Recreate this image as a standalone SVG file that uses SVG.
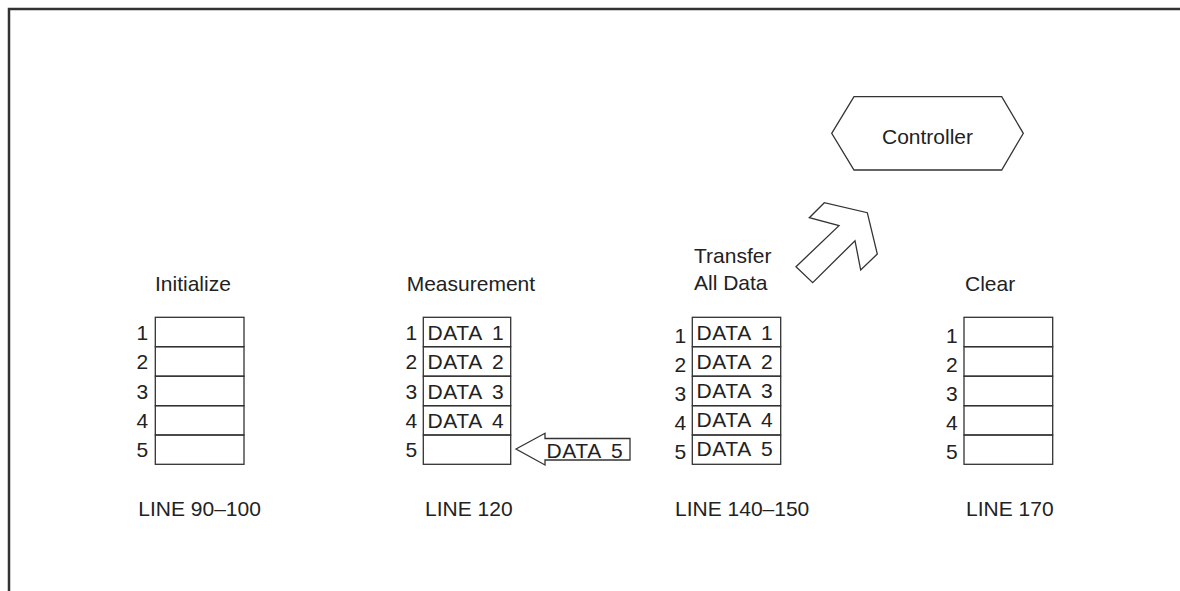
<svg xmlns="http://www.w3.org/2000/svg" width="1180" height="591" viewBox="0 0 1180 591">
<style>
text{font-family:"Liberation Sans",Arial,sans-serif;font-size:21px;fill:#222}
.data{letter-spacing:0.6px;word-spacing:4px}
.box{fill:#fff;stroke:#333;stroke-width:1.3}
.cell{fill:none;stroke:#333;stroke-width:1.3}
.frame{fill:none;stroke:#333;stroke-width:2.5}
</style>
<rect width="1180" height="591" fill="#fff"/>
<path class="frame" d="M9,591 V9 H1180"/>

<g id="controller">
<polygon class="box" points="831.7,133.3 854,96.7 1001.7,96.7 1023.3,133.3 1001.7,170 854,170"/>
<text x="927.5" y="144" text-anchor="middle" font-size="20">Controller</text>
</g>

<g id="initialize">
<text x="155" y="290.7">Initialize</text>
<rect class="cell" x="155.3" y="317.3" width="88.7" height="29.4"/>
<rect class="cell" x="155.3" y="346.7" width="88.7" height="29.5"/>
<rect class="cell" x="155.3" y="376.2" width="88.7" height="29.5"/>
<rect class="cell" x="155.3" y="405.7" width="88.7" height="29.3"/>
<rect class="cell" x="155.3" y="435" width="88.7" height="29.3"/>
<text x="136.5" y="339.5">1</text>
<text x="136.5" y="369">2</text>
<text x="136.5" y="398.5">3</text>
<text x="136.5" y="428">4</text>
<text x="136.5" y="457">5</text>
<text x="138.3" y="516">LINE 90–100</text>
</g>

<g id="measurement">
<text x="406.7" y="290.7">Measurement</text>
<rect class="cell" x="423.3" y="317.3" width="87.4" height="29.4"/>
<rect class="cell" x="423.3" y="346.7" width="87.4" height="29.5"/>
<rect class="cell" x="423.3" y="376.2" width="87.4" height="29.5"/>
<rect class="cell" x="423.3" y="405.7" width="87.4" height="29.3"/>
<rect class="cell" x="423.3" y="435" width="87.4" height="29.3"/>
<text x="405.5" y="339.5">1</text>
<text x="405.5" y="369">2</text>
<text x="405.5" y="398.5">3</text>
<text x="405.5" y="428">4</text>
<text x="405.5" y="457">5</text>
<text class="data" x="427.5" y="339.5">DATA 1</text>
<text class="data" x="427.5" y="369">DATA 2</text>
<text class="data" x="427.5" y="398.5">DATA 3</text>
<text class="data" x="427.5" y="428">DATA 4</text>
<text x="425" y="516">LINE 120</text>
</g>

<g id="data5">
<polygon class="box" points="516,449 545,433.3 545,438.5 630,438.5 630,460 545,460 545,465"/>
<text class="data" x="546.5" y="458.3">DATA 5</text>
</g>

<g id="transfer">
<text x="694" y="263">Transfer</text>
<text x="694" y="290">All Data</text>
<rect class="cell" x="692.3" y="317.3" width="88.4" height="29.4"/>
<rect class="cell" x="692.3" y="346.7" width="88.4" height="29.5"/>
<rect class="cell" x="692.3" y="376.2" width="88.4" height="29.5"/>
<rect class="cell" x="692.3" y="405.7" width="88.4" height="29.3"/>
<rect class="cell" x="692.3" y="435" width="88.4" height="29.3"/>
<text x="674.5" y="342.5">1</text>
<text x="674.5" y="371.5">2</text>
<text x="674.5" y="401">3</text>
<text x="674.5" y="430">4</text>
<text x="674.5" y="459">5</text>
<text class="data" x="696.5" y="339.5">DATA 1</text>
<text class="data" x="696.5" y="368.5">DATA 2</text>
<text class="data" x="696.5" y="397.5">DATA 3</text>
<text class="data" x="696.5" y="426.5">DATA 4</text>
<text class="data" x="696.5" y="455.5">DATA 5</text>
<text x="675" y="516">LINE 140–150</text>
</g>

<g id="clear">
<text x="965" y="290.7">Clear</text>
<rect class="cell" x="964" y="317.3" width="88.7" height="29.4"/>
<rect class="cell" x="964" y="346.7" width="88.7" height="29.5"/>
<rect class="cell" x="964" y="376.2" width="88.7" height="29.5"/>
<rect class="cell" x="964" y="405.7" width="88.7" height="29.3"/>
<rect class="cell" x="964" y="435" width="88.7" height="29.3"/>
<text x="946" y="342.5">1</text>
<text x="946" y="371.5">2</text>
<text x="946" y="401">3</text>
<text x="946" y="430">4</text>
<text x="946" y="459">5</text>
<text x="966" y="516">LINE 170</text>
</g>

<g id="connectors">
<polygon class="box" points="796,266.7 839,225.7 809.3,217.7 824.3,202.7 867.3,212.7 877.3,254 860.7,270 855,240.7 812.7,282.7"/>
</g>
</svg>
